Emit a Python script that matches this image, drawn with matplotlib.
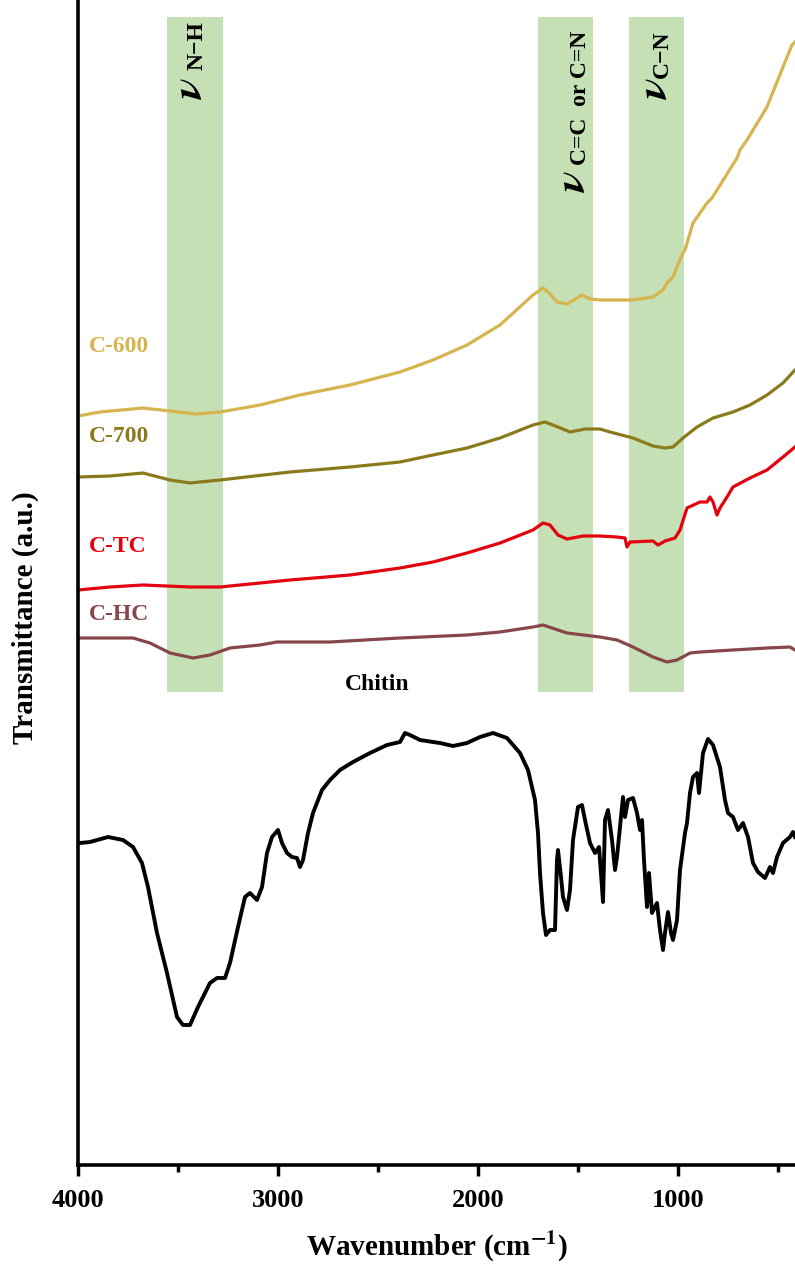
import numpy as np
import matplotlib
matplotlib.use('Agg')
import matplotlib.pyplot as plt

### spectra (wavenumber in cm-1, transmittance in a.u. with offsets)
c600_wn = [4000, 3890, 3675, 3540, 3410, 3290, 3090, 2890, 2640, 2390, 2225, 2055, 1890, 1725,
           1675, 1650, 1605, 1555, 1480, 1440, 1390, 1225, 1125, 1075, 1055, 1025, 1005, 975,
           965, 925, 855, 830, 705, 690, 655, 555, 475, 430, 415]
c600_t = [74.9, 75.3, 75.7, 75.4, 75.1, 75.3, 76.0, 77.0, 78.0, 79.3, 80.5, 82.0, 84.0, 87.0,
          87.7, 87.3, 86.3, 86.1, 87.0, 86.6, 86.5, 86.5, 86.8, 87.5, 88.2, 88.8, 89.8, 91.2,
          91.5, 94.2, 96.2, 96.7, 100.7, 101.5, 102.5, 105.8, 109.8, 112.0, 112.3]

c700_wn = [4000, 3840, 3675, 3540, 3440, 3290, 2940, 2640, 2390, 2225, 2055, 1890, 1725, 1665,
           1600, 1540, 1465, 1390, 1340, 1225, 1125, 1065, 1025, 975, 905, 825, 725, 640, 555,
           475, 415]
c700_t = [68.8, 68.9, 69.2, 68.5, 68.2, 68.5, 69.3, 69.8, 70.3, 71.0, 71.7, 72.7, 74.0, 74.3,
          73.8, 73.3, 73.6, 73.6, 73.3, 72.7, 71.9, 71.7, 71.8, 72.7, 73.8, 74.7, 75.3, 76.0,
          77.0, 78.2, 79.5]

ctc_wn = [4000, 3840, 3675, 3440, 3290, 2940, 2640, 2390, 2225, 2055, 1890, 1725, 1675, 1640,
          1600, 1555, 1475, 1390, 1305, 1265, 1255, 1240, 1125, 1100, 1065, 1015, 990, 955,
          890, 855, 840, 825, 805, 790, 755, 725, 640, 555, 475, 415]
ctc_t = [57.5, 57.8, 58.0, 57.8, 57.8, 58.5, 59.0, 59.7, 60.3, 61.2, 62.2, 63.5, 64.2, 64.0,
         63.0, 62.6, 62.9, 62.9, 62.8, 62.7, 61.8, 62.3, 62.4, 62.0, 62.4, 62.7, 63.5, 65.7,
         66.3, 66.3, 66.8, 66.3, 65.0, 65.7, 66.8, 67.8, 68.7, 69.5, 70.8, 71.8]

chc_wn = [4000, 3725, 3640, 3540, 3425, 3340, 3240, 3090, 3005, 2740, 2390, 2055, 1890, 1725,
          1675, 1555, 1390, 1305, 1225, 1125, 1055, 1005, 940, 890, 725, 555, 440, 415]
chc_t = [52.7, 52.7, 52.2, 51.2, 50.7, 51.0, 51.7, 52.0, 52.3, 52.3, 52.7, 53.0, 53.3, 53.8,
         54.0, 53.2, 52.8, 52.5, 51.8, 50.8, 50.3, 50.5, 51.2, 51.3, 51.5, 51.7, 51.8, 51.5]

chitin_wn = [3990, 3940, 3850, 3775, 3725, 3680, 3650, 3605, 3555, 3505, 3475, 3440, 3400, 3340,
             3305, 3265, 3240, 3200, 3165, 3140, 3105, 3080, 3055, 3030, 3000, 2980, 2955, 2930,
             2905, 2890, 2875, 2850, 2825, 2780, 2740, 2690, 2625, 2540, 2455, 2390, 2365, 2340,
             2290, 2225, 2190, 2125, 2055, 1990, 1925, 1855, 1790, 1750, 1715, 1700, 1690, 1675,
             1660, 1640, 1615, 1605, 1600, 1585, 1575, 1555, 1540, 1525, 1500, 1480, 1465, 1440,
             1415, 1395, 1380, 1375, 1365, 1350, 1330, 1315, 1305, 1290, 1275, 1265, 1250, 1225,
             1205, 1190, 1180, 1170, 1155, 1145, 1130, 1105, 1090, 1075, 1065, 1050, 1035, 1025,
             1005, 990, 965, 955, 940, 925, 905, 895, 875, 850, 825, 790, 765, 750, 725, 700,
             675, 650, 625, 600, 565, 540, 525, 505, 475, 440, 425, 415]
chitin_t = [32.2, 32.3, 32.8, 32.5, 31.8, 30.2, 27.8, 23.2, 19.2, 14.8, 14.0, 14.0, 15.8, 18.2,
            18.7, 18.7, 20.2, 23.8, 26.8, 27.2, 26.5, 27.8, 31.2, 32.8, 33.5, 32.2, 31.2, 30.8,
            30.7, 29.8, 30.5, 33.2, 35.2, 37.5, 38.5, 39.5, 40.3, 41.2, 42.0, 42.3, 43.2, 43.0,
            42.5, 42.3, 42.2, 41.9, 42.2, 42.8, 43.2, 42.7, 41.2, 39.5, 36.5, 33.2, 29.2, 25.2,
            23.0, 23.5, 23.5, 30.5, 31.5, 28.8, 26.8, 25.5, 27.5, 32.5, 35.8, 36.0, 34.5, 32.2,
            31.2, 31.8, 27.8, 26.3, 34.5, 35.5, 32.5, 29.5, 30.8, 33.8, 36.8, 34.8, 36.5, 36.7,
            35.2, 33.5, 34.5, 30.5, 25.8, 29.2, 25.2, 26.2, 23.5, 21.5, 23.2, 25.3, 23.2, 22.5,
            24.5, 29.5, 33.2, 34.2, 37.2, 38.8, 39.2, 37.2, 41.2, 42.6, 42.0, 39.8, 36.5, 35.2,
            34.8, 33.5, 34.2, 32.8, 30.2, 29.3, 28.7, 29.8, 29.2, 30.8, 32.2, 32.8, 33.3, 32.8]

### shaded bands (cm-1) and their labels
band_lo = [3275, 1425, 970]
band_hi = [3555, 1700, 1245]
band_sub = ['N\u2212H', 'C=C  or C=N', 'C\u2212N']

plt.rcParams['font.family'] = ['Liberation Serif', 'DejaVu Serif']
plt.rcParams['font.weight'] = 'bold'
plt.rcParams['mathtext.fontset'] = 'stix'

fig = plt.figure(figsize=(7.95, 12.66), dpi=100)
ax = fig.add_axes([78/795, 101/1266, 717/795, 1165/1266])

for lo, hi in zip(band_lo, band_hi):
    ax.axvspan(lo, hi, ymin=0.406, ymax=0.985, color='#c5e0b4', lw=0, zorder=0)

ax.plot(c600_wn, c600_t, color='#d6b44e', lw=2.3)
ax.plot(c700_wn, c700_t, color='#8b7a1c', lw=2.3)
ax.plot(ctc_wn, ctc_t, color='#e3000f', lw=2.3)
ax.plot(chc_wn, chc_t, color='#87474a', lw=2.3)
ax.plot(chitin_wn, chitin_t, color='black', lw=2.8)

lab_kw = dict(fontsize=17, fontweight='bold', ha='center', va='center')
ax.text(3795, 81.8, 'C-600', color='#d6b44e', **lab_kw)
ax.text(3795, 72.8, 'C-700', color='#8b7a1c', **lab_kw)
ax.text(3800, 61.8, 'C-TC', color='#e3000f', **lab_kw)
ax.text(3795, 55.0, 'C-HC', color='#87474a', **lab_kw)
ax.text(2505, 48.1, 'Chitin', color='black', **lab_kw)

# nu symbols and subscripts on the bands
nu_x = [3340, 1425, 1015]
nu_y = [106.5, 97.2, 106.5]
sub_y = [109.5, 100.0, 108.7]
for nx, ny, sy, s in zip(nu_x, nu_y, sub_y, band_sub):
    ax.text(nx, ny, r'$\nu$', fontsize=32, rotation=90, ha='right', va='bottom')
    ax.text(nx + 10, sy, s, fontsize=17, fontweight='bold', rotation=90, ha='right', va='bottom')

ax.set_xlim(4000, 415)
ax.set_ylim(0, 116.5)
ax.set_xticks([4000, 3000, 2000, 1000])
ax.set_xticks([3500, 2500, 1500, 500], minor=True)
ax.set_yticks([])
ax.tick_params(axis='x', which='major', direction='out', length=8, width=2.5, labelsize=19, pad=9)
ax.tick_params(axis='x', which='minor', direction='out', length=5, width=2.5)
for sp in ['top', 'right']:
    ax.spines[sp].set_visible(False)
for sp in ['left', 'bottom']:
    ax.spines[sp].set_linewidth(2.6)

ax.set_xlabel('Wavenumber (cm$^{\\mathbf{-1}}$)', fontsize=21, fontweight='bold', labelpad=12)
ax.set_ylabel('Transmittance (a.u.)', fontsize=21, fontweight='bold')
ax.yaxis.set_label_coords(-0.055, 0.47)

fig.savefig('out.png', dpi=100)
